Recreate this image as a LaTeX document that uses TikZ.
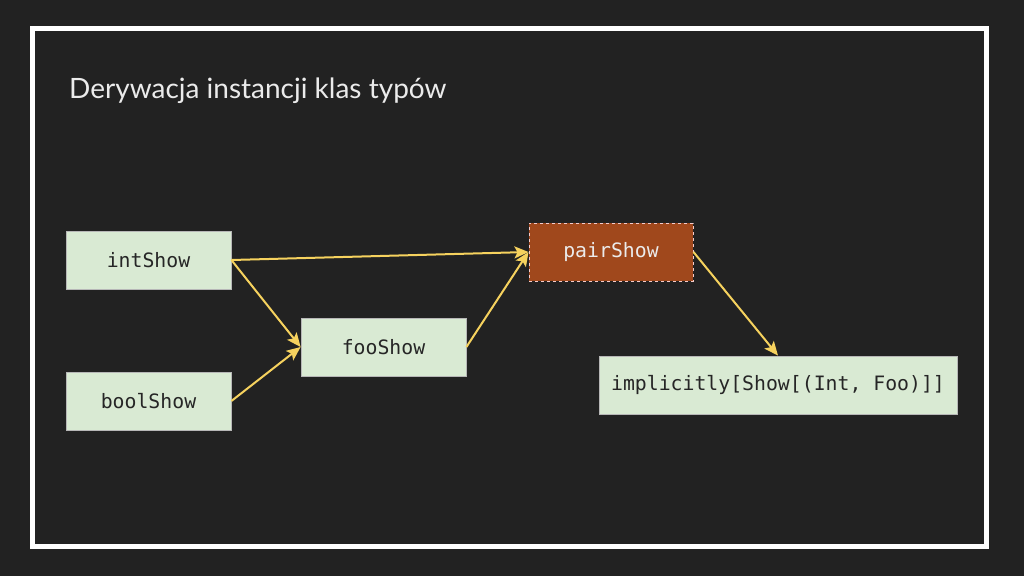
\documentclass[tikz,border=0pt]{standalone}
\usepackage{fontspec}
\setmainfont{Lato}
\setmonofont{DejaVu Sans Mono}
\usetikzlibrary{arrows.meta}
\definecolor{bg}{HTML}{222222}
\definecolor{boxfill}{HTML}{D9EAD3}
\definecolor{boxline}{HTML}{B7B7B7}
\definecolor{pairfill}{HTML}{A0481C}
\definecolor{pairline}{HTML}{F4CCCC}
\definecolor{arrowc}{HTML}{F6D25E}
\tikzset{
  box/.style={draw=boxline, line width=0.8pt, fill=boxfill, minimum height=58pt, inner sep=0pt, font=\ttfamily\fontsize{19.8}{23}\selectfont, text=black!85},
  pairbox/.style={draw=pairline, dashed, line width=1pt, fill=pairfill, minimum height=58pt, minimum width=164pt, inner sep=0pt, font=\ttfamily\fontsize{19.8}{23}\selectfont, text=white!92!black},
  conn/.style={draw=arrowc, line width=2pt, -{Stealth[length=14pt,width=12pt,inset=3pt]}},
}
\begin{document}
\begin{tikzpicture}[x=1pt,y=-1pt]
\useasboundingbox (0,0) rectangle (1024,576);
\fill[bg] (0,0) rectangle (1024,576);
\draw[white, line width=5pt] (32.5,28.5) rectangle (986,546);
\node[anchor=base west, inner sep=0pt, text=white!92!black, font=\fontsize{28}{33}\selectfont] (title) at (69,98) {Derywacja instancji klas typów};
\node[box, minimum width=165pt] (int) at (148.5,260) {intShow};
\node[box, minimum width=165pt] (bool) at (148.5,401) {boolShow};
\node[box, minimum width=165pt] (foo) at (383.5,347) {fooShow};
\node[pairbox] (pair) at (611,252) {pairShow};
\node[box, minimum width=358pt] (impl) at (778,385) {implicitly[Show[(Int, Foo)]]};
\draw[conn] (int.east) -- (pair.west);
\draw[conn] (int.east) -- (foo.west);
\draw[conn] (bool.east) -- (foo.west);
\draw[conn] (foo.east) -- (pair.west);
\draw[conn] (pair.east) -- (impl.north);
\end{tikzpicture}
\end{document}
